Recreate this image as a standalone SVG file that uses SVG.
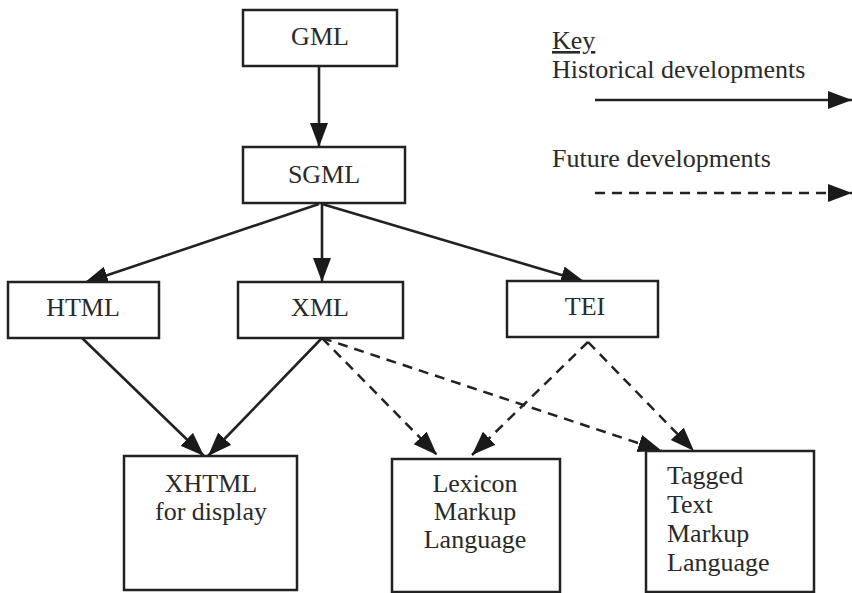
<svg xmlns="http://www.w3.org/2000/svg" width="852" height="593" viewBox="0 0 852 593">
<defs>
<marker id="ah" markerUnits="userSpaceOnUse" markerWidth="26" markerHeight="20" refX="24" refY="9" orient="auto">
<path d="M0,0 L24,9 L0,18 Z" fill="#1a1a1a"/>
</marker>
</defs>
<style>
.box{fill:#fff;stroke:#222;stroke-width:2.5}
.t{font-family:"Liberation Serif","Times New Roman",serif;font-size:26px;fill:#2a2a2a}
.c{text-anchor:middle}
.s{fill:none;stroke:#222;stroke-width:2.6;marker-end:url(#ah)}
.d{fill:none;stroke:#222;stroke-width:2.5;stroke-dasharray:10,7;marker-end:url(#ah)}
</style>
<rect width="852" height="593" fill="#fff"/>
<g id="connectors">
<line class="s" x1="319" y1="66" x2="319" y2="147"/>
<line class="s" x1="319" y1="204" x2="84" y2="283"/>
<line class="s" x1="322" y1="204" x2="322" y2="282"/>
<line class="s" x1="322" y1="204" x2="585" y2="282"/>
<line class="s" x1="82" y1="338" x2="204" y2="456"/>
<line class="s" x1="322" y1="338" x2="208" y2="456"/>
<line class="d" x1="322" y1="338" x2="437" y2="455"/>
<line class="d" x1="322" y1="338" x2="662" y2="451"/>
<line class="d" x1="588" y1="342" x2="472" y2="455"/>
<line class="d" x1="588" y1="342" x2="694" y2="451"/>
</g>
<g id="gml"><rect class="box" x="243" y="10" width="154" height="56"/><text class="t c" x="320" y="45">GML</text></g>
<g id="sgml"><rect class="box" x="243" y="147" width="162" height="56"/><text class="t c" x="324" y="183">SGML</text></g>
<g id="html"><rect class="box" x="8" y="282" width="151" height="56"/><text class="t c" x="83" y="316">HTML</text></g>
<g id="xml"><rect class="box" x="238" y="282" width="165" height="56"/><text class="t c" x="320" y="316">XML</text></g>
<g id="tei"><rect class="box" x="507" y="281" width="151" height="56"/><text class="t c" x="585" y="315">TEI</text></g>
<g id="xhtml"><rect class="box" x="124" y="456" width="173" height="134"/><text class="t c" x="211" y="492">XHTML</text><text class="t c" x="211" y="520">for display</text></g>
<g id="lexicon"><rect class="box" x="392" y="459" width="168" height="133"/><text class="t c" x="475" y="492">Lexicon</text><text class="t c" x="475" y="520">Markup</text><text class="t c" x="475" y="548">Language</text></g>
<g id="tagged"><rect class="box" x="646" y="451" width="168" height="141"/><text class="t" x="667" y="484">Tagged</text><text class="t" x="667" y="513">Text</text><text class="t" x="667" y="542">Markup</text><text class="t" x="667" y="571">Language</text></g>
<g id="key">
<text class="t" x="552" y="49" text-decoration="underline">Key</text>
<text class="t" x="552" y="78">Historical developments</text>
<line class="s" x1="595" y1="100" x2="852" y2="100"/>
<text class="t" x="552" y="167">Future developments</text>
<line class="d" x1="595" y1="193" x2="852" y2="193"/>
</g>
</svg>
